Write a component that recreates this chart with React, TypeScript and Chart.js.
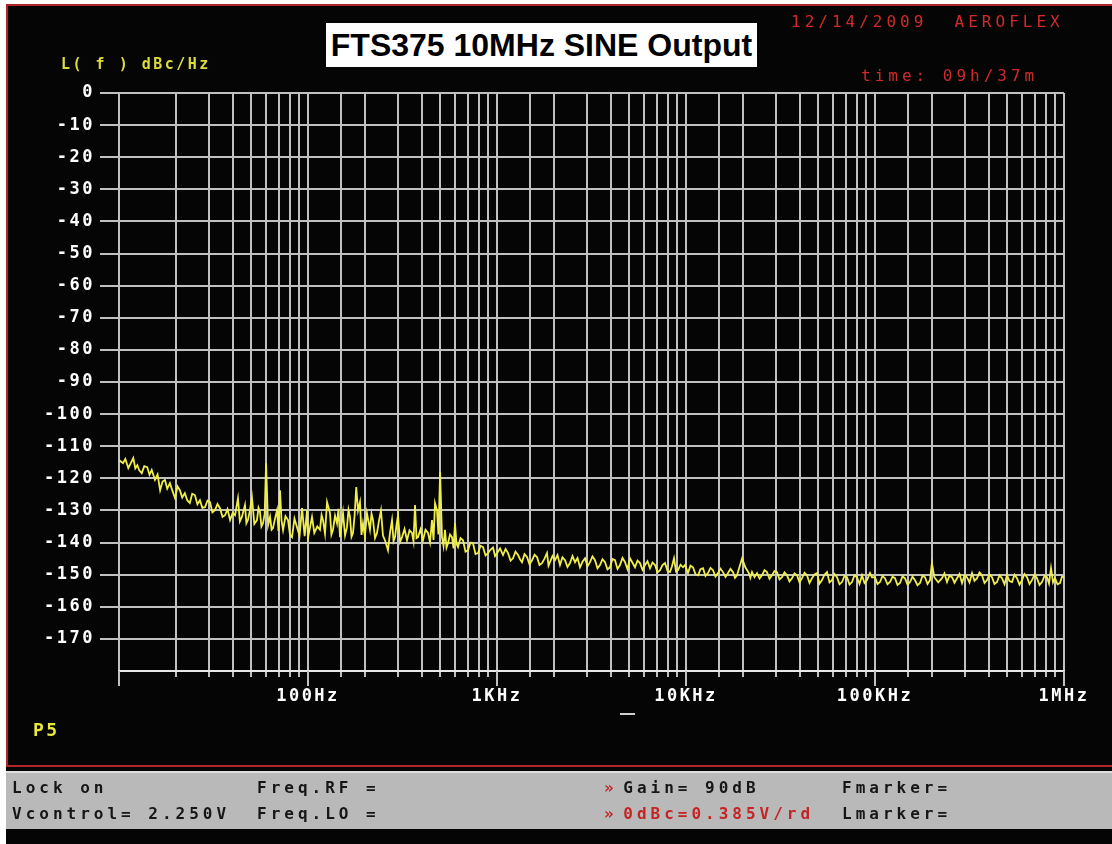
import React, { useEffect, useRef } from 'react';
import { Chart, registerables } from 'chart.js';

Chart.register(...registerables);

// Trace points as [offset frequency Hz, L(f) dBc/Hz], one array per decade
const trace10Hz = [
  [10, -114.3], [10.5, -115.3], [10.8, -114.0], [11.2, -116.8], [11.9, -113.7], [12.2, -116.9], [12.5, -115.9],
  [12.8, -117.5], [13.2, -118.4], [13.6, -116.2], [14.1, -116.5], [14.5, -118.9], [14.9, -117.4], [15.5, -120.5],
  [16.0, -118.8], [16.5, -123.7], [17.0, -121.0], [17.5, -120.5], [18.0, -123.2], [18.6, -121.5], [19.2, -124.0],
  [19.8, -126.2], [20.4, -122.5], [21.0, -123.7], [21.6, -126.0], [22.3, -124.6], [23.0, -126.9], [23.7, -127.7],
  [24.4, -124.8], [25.2, -125.2], [26.0, -128.1], [26.8, -126.8], [27.6, -129.2], [28.5, -129.0], [29.4, -126.9],
  [30.3, -127.4], [31.2, -130.6], [32.2, -129.9], [33.2, -128.0], [34.2, -129.3], [35.3, -132.0], [36.4, -131.5],
  [37.5, -129.6], [38.7, -133.0], [39.9, -130.8], [41.1, -131.5], [42.6, -126.2], [43.6, -133.4], [44.7, -132.0],
  [46.4, -128.3], [47.2, -134.0], [48.1, -133.0], [49.3, -130.0], [50.5, -125.9], [52.0, -134.2], [53.7, -133.0],
  [54.7, -129.2], [55.7, -130.5], [56.7, -135.0], [57.8, -134.0], [59.0, -131.0], [60, -115.3], [61.5, -134.6],
  [63.0, -132.0], [64.2, -136.0], [65.3, -135.5], [67.0, -132.4], [68.6, -129.9], [69.8, -136.4], [71.1, -123.7],
  [72.4, -133.0], [73.8, -136.1], [76.0, -131.8], [78.4, -133.0], [80.3, -137.6], [82.3, -138.3], [84.8, -132.5],
  [87.5, -135.2], [90.2, -137.9], [93.0, -129.3], [96, -138.0], [98.8, -130.0],
];

const trace100Hz = [
  [100, -138.6], [105, -132.0], [108, -137.0], [112, -135.0], [115.7, -136.0], [118, -131.4], [120.1, -133.0],
  [123, -137.2], [126.1, -127.4], [130.7, -130.8], [133, -137.5], [135.6, -136.0], [139, -131.6], [142.4, -134.0],
  [145, -129.5], [147.7, -138.3], [150.5, -134.6], [153.2, -130.8], [157, -137.8], [160.8, -135.2], [163.8, -129.8],
  [166.8, -132.0], [169.9, -138.2], [173.0, -137.0], [176.5, -131.5], [180, -122.7], [183.9, -130.0], [188.4, -127.4],
  [191.9, -137.6], [195.4, -134.0], [200, -138.0], [205.1, -130.8], [212.8, -136.0], [216.8, -131.0], [220.8, -133.0],
  [226.3, -138.6], [231.8, -137.0], [237.5, -133.2], [243.3, -130.0], [249.3, -137.8], [255.5, -139.3], [265.0, -142.4],
  [271.5, -137.0], [278.3, -133.0], [283.5, -139.6], [288.7, -138.3], [294, -134.5], [299.5, -131.5], [306.9, -139.8],
  [314.4, -138.3], [324.1, -135.8], [334.1, -139.3], [344.4, -136.2], [355.0, -137.0], [361.6, -139.6], [368.3, -128.3],
  [375.1, -138.6], [382.0, -138.3], [393.8, -135.9], [405.9, -139.3], [418.5, -136.0], [431.4, -137.0], [442.1, -139.9],
  [453.0, -133.0], [461.4, -139.2], [469.9, -127.7], [481.4, -130.0], [490, -137.5], [500, -118.0], [511.7, -138.3],
  [521, -141.0], [530.7, -136.0], [540.5, -141.6], [550.5, -140.2], [564.1, -137.5], [578.1, -138.3], [588.7, -141.8],
  [599.5, -134.0], [610.5, -140.4], [621.8, -141.4], [641, -138.6], [660.9, -139.3], [681.4, -142.8], [702.5, -142.4],
  [724.2, -140.0], [746.5, -140.2], [769.7, -143.6], [793.6, -143.3], [818.1, -141.0], [843.4, -141.4], [869.5, -144.0],
  [896.5, -143.3], [918, -142.4], [952.4, -141.5], [976, -144.2],
];

const trace1kHz = [
  [1000, -143.3], [1038, -141.8], [1076, -143.9], [1110, -142.0], [1144, -143.3], [1180, -145.6], [1215, -144.9],
  [1253, -142.8], [1292, -143.9], [1324, -145.2], [1356, -146.1], [1398, -143.6], [1441, -144.5], [1486, -146.8],
  [1532, -145.5], [1580, -143.8], [1628, -144.5], [1678, -147.0], [1730, -146.4], [1784, -145.0], [1839, -143.3],
  [1873, -147.2], [1907, -146.1], [1966, -144.2], [2027, -145.5], [2090, -143.9], [2154, -147.0], [2220, -144.6],
  [2290, -145.5], [2360, -147.6], [2433, -146.4], [2509, -144.2], [2587, -146.1], [2667, -144.8], [2749, -147.7],
  [2834, -146.0], [2922, -144.9], [3012, -147.4], [3105, -146.1], [3200, -144.3], [3300, -145.5], [3402, -148.0],
  [3507, -147.0], [3616, -145.2], [3728, -146.1], [3843, -148.4], [3962, -147.7], [4085, -145.1], [4211, -145.5],
  [4341, -148.2], [4475, -147.0], [4614, -144.8], [4757, -146.1], [4904, -148.3], [5055, -144.9], [5211, -146.3],
  [5372, -147.7], [5538, -145.6], [5710, -146.4], [5887, -148.5], [6069, -147.0], [6256, -145.8], [6449, -148.0],
  [6649, -146.2], [6855, -147.0], [7067, -149.3], [7286, -148.6], [7511, -147.0], [7743, -146.4], [7982, -148.8],
  [8229, -149.2], [8432, -147.4], [8640, -144.9], [8853, -149.0], [9072, -148.6], [9352, -146.9], [9641, -147.7],
  [9879, -147.0],
];

const trace10kHz = [
  [10245, -149.5], [10560, -147.2], [10890, -147.7], [11230, -149.9], [11575, -150.2], [11930, -148.3], [12300, -148.0],
  [12680, -150.4], [13070, -149.5], [13480, -147.9], [13896, -148.6], [14320, -150.6], [14766, -149.5], [15220, -148.1],
  [15695, -149.2], [16180, -150.7], [16681, -149.5], [17200, -148.2], [17731, -149.2], [18170, -151.0], [18614, -150.2],
  [19800, -144.9], [20600, -147.7], [21500, -149.5], [21900, -151.0], [22346, -149.2], [23040, -150.8], [23753, -149.5],
  [24490, -151.2], [25245, -150.2], [26020, -148.6], [26827, -149.2], [27650, -151.3], [28510, -150.2], [29400, -148.9],
  [30302, -149.2], [31240, -151.5], [32203, -150.8], [33200, -149.3], [34225, -150.2], [35280, -152.1], [36370, -151.1],
  [37500, -149.6], [38659, -150.2], [39860, -152.4], [41092, -151.1], [42370, -149.4], [43677, -150.2], [45030, -152.6],
  [46416, -151.1], [47850, -149.9], [49334, -149.5], [50860, -152.8], [52435, -151.7], [54060, -150.0], [55719, -149.2],
  [57440, -152.4], [59222, -151.7], [61050, -149.8], [62938, -150.8], [64890, -153.0], [66893, -152.3], [68970, -150.4],
  [71107, -150.8], [73300, -153.1], [75569, -152.3], [77900, -150.2], [80318, -150.8], [82800, -152.9], [85361, -150.2],
  [88000, -152.6], [90722, -151.7], [94088, -149.5], [96400, -150.8],
];

const trace100kHz = [
  [100000, -150.8], [103100, -152.9], [106300, -152.3], [109500, -150.4], [112900, -151.1], [116400, -153.0],
  [120100, -152.3], [123800, -150.6], [127600, -151.1], [131500, -153.2], [135600, -152.6], [139800, -150.5],
  [144100, -151.1], [148600, -153.1], [153200, -152.3], [157900, -150.6], [162800, -151.7], [167800, -153.3],
  [173000, -152.6], [178400, -150.3], [183900, -150.8], [189600, -152.9], [195400, -151.7], [200000, -146.4],
  [206000, -150.8], [216000, -152.4], [226100, -151.1], [233000, -149.6], [240400, -152.3], [247800, -150.3],
  [255500, -150.8], [263400, -152.5], [271500, -151.1], [279900, -149.8], [288700, -152.6], [297500, -150.2],
  [306700, -150.8], [316200, -152.4], [326100, -149.5], [336100, -151.9], [346500, -151.1], [357200, -149.3],
  [368300, -150.2], [379700, -152.6], [391400, -151.7], [403500, -149.9], [415900, -150.8], [428800, -152.9],
  [442100, -152.3], [455800, -150.2], [469900, -151.1], [484400, -153.0], [499400, -150.2], [514800, -152.0],
  [530700, -152.3], [547100, -150.0], [564100, -151.1], [581500, -153.1], [599500, -151.7], [618000, -149.8],
  [637200, -150.8], [656900, -152.9], [677200, -151.7], [698200, -150.0], [719700, -151.1], [742000, -153.2],
  [764900, -152.3], [788500, -150.4], [813000, -150.8], [833000, -152.8], [853600, -148.0], [875000, -152.4],
  [896500, -151.1], [924000, -153.0], [952400, -152.6], [976000, -150.6], [1000000, -150.8],
];

const xLabelValues = [100, 1000, 10000, 100000, 1000000];
const xLabelTexts = ['100Hz', '1KHz', '10KHz', '100KHz', '1MHz'];
const decadeValues = [10, 100, 1000, 10000, 100000, 1000000];
const yMin = -180;
const yMax = 0;
const yStep = 10;

const MONO = '"DejaVu Sans Mono", "Liberation Mono", monospace';
const GRID = '#c0c0c0';

export default function App() {
  const ref = useRef<HTMLCanvasElement>(null);

  useEffect(() => {
    const canvas = ref.current;
    if (!canvas) return;

    const deco = {
      id: 'deco',
      beforeDraw(chart: any) {
        chart.ctx.letterSpacing = '2.5px';
      },
      afterDraw(chart: any) {
        const ctx = chart.ctx;
        const xs = chart.scales.x;
        const bottom = chart.chartArea.bottom;
        ctx.save();
        ctx.strokeStyle = GRID;
        ctx.lineWidth = 2;
        ctx.beginPath();
        for (const v of decadeValues) {
          const px = Math.round(xs.getPixelForValue(v));
          ctx.moveTo(px, bottom);
          ctx.lineTo(px, bottom + 15);
        }
        ctx.stroke();
        ctx.restore();
        ctx.letterSpacing = '0px';
      },
    };

    const allPairs = [...trace10Hz, ...trace100Hz, ...trace1kHz, ...trace10kHz, ...trace100kHz];
    const points = allPairs.map((p) => ({ x: p[0], y: p[1] }));

    const chart = new Chart(canvas, {
      type: 'line',
      data: {
        datasets: [
          {
            data: points,
            borderColor: '#f0ee48',
            borderWidth: 1.8,
            pointRadius: 0,
            tension: 0,
          },
        ],
      },
      options: {
        animation: false,
        responsive: false,
        maintainAspectRatio: false,
        parsing: false as any,
        layout: { padding: { left: 0, top: 93, right: 48, bottom: 0 } },
        plugins: { legend: { display: false }, tooltip: { enabled: false }, title: { display: false } },
        scales: {
          x: {
            type: 'logarithmic',
            min: 10,
            max: 1000000,
            position: 'bottom',
            afterFit(scale: any) {
              scale.height = 844 - 671;
            },
            grid: {
              color: GRID,
              lineWidth: 2,
              tickLength: 6,
              drawTicks: true,
            },
            border: { display: true, color: '#e8e8e8', width: 2 },
            ticks: {
              autoSkip: false,
              maxRotation: 0,
              minRotation: 0,
              padding: 9,
              color: '#ffffff',
              font: { family: MONO, size: 17, weight: 'bold' },
              callback: (v: any) => {
                const i = xLabelValues.indexOf(Number(v));
                return i >= 0 ? xLabelTexts[i] : '';
              },
            },
          },
          y: {
            min: yMin,
            max: yMax,
            afterFit(scale: any) {
              scale.width = 119;
            },
            grid: {
              color: GRID,
              lineWidth: 2,
              tickLength: 19,
              tickColor: (c: any) => (c.tick && c.tick.value === yMin ? 'rgba(0,0,0,0)' : GRID),
            },
            border: { display: false },
            ticks: {
              stepSize: yStep,
              padding: 5,
              color: '#ffffff',
              font: { family: MONO, size: 17, weight: 'bold' },
              callback: (v: any) => (Number(v) === yMin ? '' : String(v)),
            },
          },
        },
      },
      plugins: [deco],
    });

    return () => chart.destroy();
  }, []);

  const pix = (extra: React.CSSProperties): React.CSSProperties => ({
    position: 'absolute',
    fontFamily: MONO,
    fontSize: 16,
    fontWeight: 'bold',
    lineHeight: '20px',
    letterSpacing: '4px',
    whiteSpace: 'pre',
    ...extra,
  });

  return (
    <div style={{ position: 'absolute', left: 0, top: 0, width: 1112, height: 844, background: '#ffffff', overflow: 'hidden' }}>
      <div style={{ position: 'absolute', left: 6, top: 4, width: 1106, height: 840, background: '#050505' }} />
      <div style={{ position: 'absolute', left: 6, top: 4, width: 1108, height: 763, border: '2px solid #b3232a', boxSizing: 'border-box' }} />
      <div style={{ position: 'absolute', left: 6, top: 771, width: 1106, height: 58, background: '#b9b9b9', borderTop: '2px solid #dedede', boxSizing: 'border-box' }} />
      <canvas ref={ref} width={1112} height={844} style={{ position: 'absolute', left: 0, top: 0, width: 1112, height: 844 }} />

      <div
        style={{
          position: 'absolute', left: 326, top: 23, width: 431, height: 44, background: '#ffffff',
          display: 'flex', alignItems: 'center', justifyContent: 'center',
          fontFamily: '"Liberation Sans", Arial, sans-serif', fontWeight: 'bold', fontSize: 32, color: '#000',
        }}
      >
        FTS375 10MHz SINE Output
      </div>

      <div style={pix({ left: 61, top: 54, fontSize: 15, letterSpacing: '2.5px', color: '#dcdc3c' })}>L( f ) dBc/Hz</div>
      <div style={pix({ left: 791, top: 12, color: '#d02b2b', fontWeight: 'normal' })}>12/14/2009  AEROFLEX</div>
      <div style={pix({ left: 861, top: 66, color: '#d02b2b', fontWeight: 'normal' })}>time: 09h/37m</div>
      <div style={pix({ left: 33, top: 720, fontSize: 18, letterSpacing: '2.5px', color: '#e8e840' })}>P5</div>
      <div style={{ position: 'absolute', left: 620, top: 713, width: 15, height: 2, background: '#d0d0d0' }} />

      <div style={pix({ left: 12, top: 778, color: '#161616' })}>Lock on</div>
      <div style={pix({ left: 12, top: 804, color: '#161616' })}>Vcontrol= 2.250V</div>
      <div style={pix({ left: 257, top: 778, color: '#161616' })}>Freq.RF =</div>
      <div style={pix({ left: 257, top: 804, color: '#161616' })}>Freq.LO =</div>
      <div style={pix({ left: 604, top: 778, color: '#161616' })}><span style={{ color: '#c42424', letterSpacing: '0px' }}>» </span>Gain= 90dB</div>
      <div style={pix({ left: 604, top: 804, color: '#c42424' })}><span style={{ letterSpacing: '0px' }}>» </span>0dBc=0.385V/rd</div>
      <div style={pix({ left: 842, top: 778, color: '#161616' })}>Fmarker=</div>
      <div style={pix({ left: 842, top: 804, color: '#161616' })}>Lmarker=</div>
    </div>
  );
}
